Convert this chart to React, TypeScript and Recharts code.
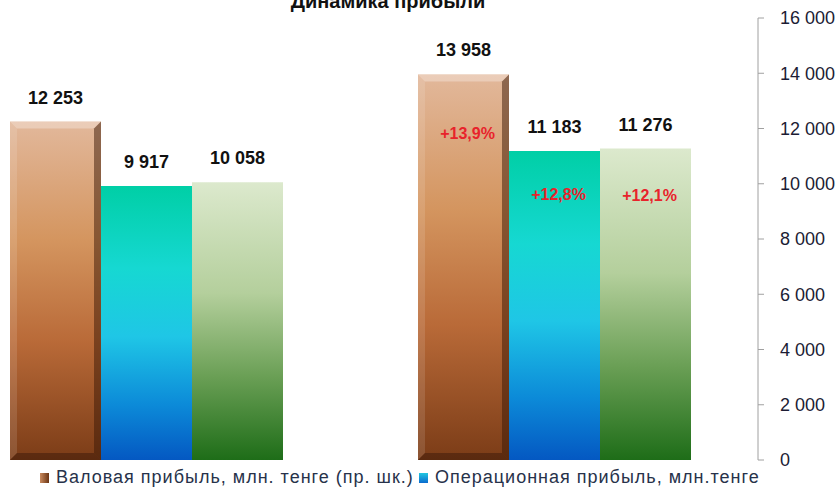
import React from "react";
import { BarChart, Bar, XAxis, YAxis, Legend, LabelList } from "recharts";

// periods (the category axis is cropped off in the original)
const periods = ["Прошлый период", "Текущий период"];
const grossProfit = [12253, 13958];
const operatingProfit = [9917, 11183];
const netProfit = [10058, 11276];
const grossGrowth = ["", "+13,9%"];
const operatingGrowth = ["", "+12,8%"];
const netGrowth = ["", "+12,1%"];
const yTicks = [0, 2000, 4000, 6000, 8000, 10000, 12000, 14000, 16000];

const data = periods.map((p, i) => ({
  period: p,
  gross: grossProfit[i],
  operating: operatingProfit[i],
  net: netProfit[i],
  grossG: grossGrowth[i],
  operatingG: operatingGrowth[i],
  netG: netGrowth[i],
}));

const fmt = (v: number) => String(v).replace(/\B(?=(\d{3})+(?!\d))/g, " ");

const BevelBar = (props: any) => {
  const { x, y, width: w, height: h } = props;
  const b = 7;
  return (
    <g>
      <rect x={x} y={y} width={w} height={h} fill="url(#gBrown)" />
      <polygon points={`${x},${y} ${x + w},${y} ${x + w - b},${y + b} ${x + b},${y + b}`} fill="#fff" opacity={0.3} />
      <polygon points={`${x},${y} ${x + b},${y + b} ${x + b},${y + h - b} ${x},${y + h}`} fill="#fff" opacity={0.12} />
      <polygon points={`${x + w},${y} ${x + w},${y + h} ${x + w - b},${y + h - b} ${x + w - b},${y + b}`} fill="#3a1806" opacity={0.5} />
      <polygon points={`${x},${y + h} ${x + w},${y + h} ${x + w - b},${y + h - b} ${x + b},${y + h - b}`} fill="#2a1004" opacity={0.4} />
    </g>
  );
};

const valueLabel = (props: any) => {
  const { x, y, width, value } = props;
  return (
    <text x={x + width / 2} y={y - 18} textAnchor="middle" fontSize={18} fontWeight="bold"
      fontFamily="Liberation Sans, Arial, sans-serif" fill="#111">
      {fmt(value)}
    </text>
  );
};

const growthLabel = (dy: number) => (props: any) => {
  const { x, y, width, value } = props;
  if (!value) return null;
  return (
    <text x={x + width / 2 + 4} y={y + dy} textAnchor="middle" fontSize={16} fontWeight="bold"
      fontFamily="Liberation Sans, Arial, sans-serif" fill="#e8232b">
      {value}
    </text>
  );
};

const LegendContent = (props: any) => {
  const items = (props.payload || []).filter((e: any) => e.type !== "none" && !e.inactive).slice(0, 2);
  return (
    <div style={{ display: "flex", whiteSpace: "nowrap", fontFamily: "Liberation Sans, Arial, sans-serif", fontSize: 18, letterSpacing: 1, color: "#27324a" }}>
      {items.map((e: any, i: number) => (
        <div key={i} style={{ display: "flex", alignItems: "center", width: i === 0 ? 379 : "auto" }}>
          <span style={{ display: "inline-block", width: 9, height: 10, marginRight: 7, background: i === 0 ? "linear-gradient(90deg,#c98a5e,#6b3413)" : "linear-gradient(180deg,#22c7e0,#0a6bcf)" }} />
          <span>{e.value}</span>
        </div>
      ))}
    </div>
  );
};

export default function App() {
  return (
    <div style={{ position: "fixed", left: 0, top: 0, width: 838, height: 488, overflow: "hidden", background: "#fff" }}>
      <div style={{ position: "absolute", left: 0, width: 776, top: -11, textAlign: "center", fontFamily: "Liberation Sans, Arial, sans-serif", fontWeight: "bold", fontSize: 20, lineHeight: "24px", color: "#111" }}>
        Динамика прибыли
      </div>
      <div style={{ position: "absolute", left: -58, top: 0 }}>
        <BarChart width={896} height={488} data={data} barGap={0} barSize={91}
          margin={{ top: 18, right: 0, bottom: 28, left: 0 }}>
          <defs>
            <linearGradient id="gBrown" x1="0" y1="0" x2="0" y2="1">
              <stop offset="0" stopColor="#e2b89b" />
              <stop offset="0.35" stopColor="#d4955f" />
              <stop offset="0.65" stopColor="#b96a38" />
              <stop offset="1" stopColor="#7b3c17" />
            </linearGradient>
            <linearGradient id="gCyan" x1="0" y1="0" x2="0" y2="1">
              <stop offset="0" stopColor="#00cfa6" />
              <stop offset="0.3" stopColor="#16d8d2" />
              <stop offset="0.55" stopColor="#1fc6e6" />
              <stop offset="0.8" stopColor="#0c8ad8" />
              <stop offset="1" stopColor="#0458c2" />
            </linearGradient>
            <linearGradient id="gGreen" x1="0" y1="0" x2="0" y2="1">
              <stop offset="0" stopColor="#dce9cd" />
              <stop offset="0.4" stopColor="#b4cf9c" />
              <stop offset="0.7" stopColor="#6a9f55" />
              <stop offset="1" stopColor="#1e6d18" />
            </linearGradient>
          </defs>
          <XAxis dataKey="period" hide />
          <YAxis orientation="right" width={80} domain={[0, 16000]} ticks={yTicks} interval={0}
            tickFormatter={fmt} tickSize={6} tickMargin={16}
            stroke="#a0a0a0" tickLine={{ stroke: "#a0a0a0" }}
            tick={{ fill: "#1c1c34", fontSize: 18, fontFamily: "Liberation Sans, Arial, sans-serif", textAnchor: "start" }} />
          <Legend layout="horizontal" verticalAlign="middle" align="center"
            wrapperStyle={{ top: 467, left: 98, width: 760 }} content={LegendContent} />
          <Bar dataKey="gross" name="Валовая прибыль, млн. тенге (пр. шк.)" shape={BevelBar} fill="#b96a38" isAnimationActive={false}>
            <LabelList dataKey="gross" content={valueLabel} />
            <LabelList dataKey="grossG" content={growthLabel(65)} />
          </Bar>
          <Bar dataKey="operating" name="Операционная прибыль, млн.тенге" fill="url(#gCyan)" isAnimationActive={false}>
            <LabelList dataKey="operating" content={valueLabel} />
            <LabelList dataKey="operatingG" content={growthLabel(49)} />
          </Bar>
          <Bar dataKey="net" name="Чистая прибыль, млн.тенге" legendType="none" fill="url(#gGreen)" isAnimationActive={false}>
            <LabelList dataKey="net" content={valueLabel} />
            <LabelList dataKey="netG" content={growthLabel(52)} />
          </Bar>
        </BarChart>
      </div>
    </div>
  );
}
